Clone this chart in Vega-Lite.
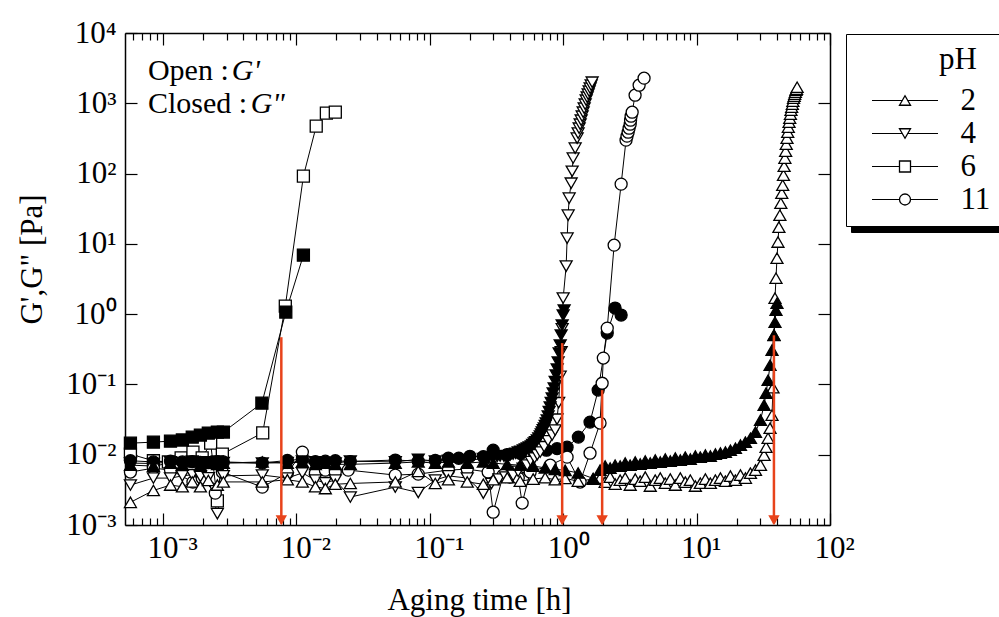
{
"$schema": "https://vega.github.io/schema/vega-lite/v6.json",
"width": 705, "height": 492,
"autosize": {"type": "none"},
"padding": {"left": 125, "top": 33, "right": 169, "bottom": 92},
"background": "white",
"config": {"view": {"stroke": null}, "font": "Liberation Serif"},
"datasets": {
"arrows": [{"t":0.00772,"g":0.47},{"t":0.983,"g":0.387},{"t":1.96,"g":0.083},{"t":38.0,"g":0.5}],
"ph": [{"p":"2"},{"p":"4"},{"p":"6"},{"p":"11"}],
"main": [
{"p":"6","m":"G'","t":0.000571,"g":0.0102},{"p":"6","m":"G'","t":0.000849,"g":0.0082},{"p":"6","m":"G'","t":0.0011,"g":0.0079},{"p":"6","m":"G'","t":0.00137,"g":0.009},{"p":"6","m":"G'","t":0.00168,"g":0.0109},{"p":"6","m":"G'","t":0.00197,"g":0.009},{"p":"6","m":"G'","t":0.00228,"g":0.0146},{"p":"6","m":"G'","t":0.00256,"g":0.0022},{"p":"6","m":"G'","t":0.00279,"g":0.0102},{"p":"6","m":"G'","t":0.0056,"g":0.0205},{"p":"6","m":"G'","t":0.00827,"g":1.3},{"p":"6","m":"G'","t":0.0113,"g":92},{"p":"6","m":"G'","t":0.0141,"g":472},{"p":"6","m":"G'","t":0.0168,"g":723},{"p":"6","m":"G'","t":0.0196,"g":747},
{"p":"6","m":"G''","t":0.000571,"g":0.0146},{"p":"6","m":"G''","t":0.000849,"g":0.0151},{"p":"6","m":"G''","t":0.00114,"g":0.0156},{"p":"6","m":"G''","t":0.0014,"g":0.0162},{"p":"6","m":"G''","t":0.00166,"g":0.0178},{"p":"6","m":"G''","t":0.00191,"g":0.019},{"p":"6","m":"G''","t":0.00219,"g":0.0203},{"p":"6","m":"G''","t":0.00256,"g":0.021},{"p":"6","m":"G''","t":0.00284,"g":0.021},{"p":"6","m":"G''","t":0.00552,"g":0.0542},{"p":"6","m":"G''","t":0.00834,"g":1.07},{"p":"6","m":"G''","t":0.0113,"g":6.9},
{"p":"11","m":"G''","t":0.000571,"g":0.0082},{"p":"11","m":"G''","t":0.000849,"g":0.0079},{"p":"11","m":"G''","t":0.00114,"g":0.0081},{"p":"11","m":"G''","t":0.0014,"g":0.0079},{"p":"11","m":"G''","t":0.00166,"g":0.008},{"p":"11","m":"G''","t":0.00191,"g":0.0078},{"p":"11","m":"G''","t":0.00219,"g":0.0077},{"p":"11","m":"G''","t":0.00256,"g":0.008},{"p":"11","m":"G''","t":0.00284,"g":0.0079},{"p":"11","m":"G''","t":0.00556,"g":0.0076},{"p":"11","m":"G''","t":0.00857,"g":0.0083},{"p":"11","m":"G''","t":0.0111,"g":0.0086},{"p":"11","m":"G''","t":0.0139,"g":0.008},{"p":"11","m":"G''","t":0.0165,"g":0.0081},{"p":"11","m":"G''","t":0.0196,"g":0.0082},{"p":"11","m":"G''","t":0.0254,"g":0.008},{"p":"11","m":"G''","t":0.0552,"g":0.0084},{"p":"11","m":"G''","t":0.082,"g":0.0081},{"p":"11","m":"G''","t":0.11,"g":0.0083},{"p":"11","m":"G''","t":0.138,"g":0.0089},{"p":"11","m":"G''","t":0.165,"g":0.0089},{"p":"11","m":"G''","t":0.2,"g":0.0095},{"p":"11","m":"G''","t":0.252,"g":0.0094},{"p":"11","m":"G''","t":0.299,"g":0.0116},{"p":"11","m":"G''","t":0.38,"g":0.01},{"p":"11","m":"G''","t":0.48,"g":0.0104},{"p":"11","m":"G''","t":0.6,"g":0.011},{"p":"11","m":"G''","t":0.75,"g":0.0116},{"p":"11","m":"G''","t":0.9,"g":0.0122},{"p":"11","m":"G''","t":1.07,"g":0.0128},{"p":"11","m":"G''","t":1.3,"g":0.0178},{"p":"11","m":"G''","t":1.59,"g":0.0291},{"p":"11","m":"G''","t":1.83,"g":0.083},{"p":"11","m":"G''","t":2.14,"g":0.537},{"p":"11","m":"G''","t":2.45,"g":1.22},{"p":"11","m":"G''","t":2.72,"g":0.97},
{"p":"11","m":"G'","t":0.000571,"g":0.00566},{"p":"11","m":"G'","t":0.000849,"g":0.00645},{"p":"11","m":"G'","t":0.00114,"g":0.00604},{"p":"11","m":"G'","t":0.00168,"g":0.00408},{"p":"11","m":"G'","t":0.00197,"g":0.00465},{"p":"11","m":"G'","t":0.00247,"g":0.00284},{"p":"11","m":"G'","t":0.00279,"g":0.00566},{"p":"11","m":"G'","t":0.00556,"g":0.00346},{"p":"11","m":"G'","t":0.00857,"g":0.00547},{"p":"11","m":"G'","t":0.0111,"g":0.0109},{"p":"11","m":"G'","t":0.0139,"g":0.00547},{"p":"11","m":"G'","t":0.0165,"g":0.00604},{"p":"11","m":"G'","t":0.0196,"g":0.00566},{"p":"11","m":"G'","t":0.0245,"g":0.00604},{"p":"11","m":"G'","t":0.0552,"g":0.00513},{"p":"11","m":"G'","t":0.082,"g":0.0053},{"p":"11","m":"G'","t":0.138,"g":0.00604},{"p":"11","m":"G'","t":0.191,"g":0.00624},{"p":"11","m":"G'","t":0.274,"g":0.00566},{"p":"11","m":"G'","t":0.299,"g":0.00152},{"p":"11","m":"G'","t":0.355,"g":0.00513},{"p":"11","m":"G'","t":0.401,"g":0.0048},{"p":"11","m":"G'","t":0.461,"g":0.00465},{"p":"11","m":"G'","t":0.493,"g":0.00205},{"p":"11","m":"G'","t":0.566,"g":0.00566},{"p":"11","m":"G'","t":0.8,"g":0.0071},{"p":"11","m":"G'","t":1.07,"g":0.00924},{"p":"11","m":"G'","t":1.34,"g":0.00408},{"p":"11","m":"G'","t":1.59,"g":0.0105},{"p":"11","m":"G'","t":1.89,"g":0.0282},{"p":"11","m":"G'","t":1.96,"g":0.104},{"p":"11","m":"G'","t":2.0,"g":0.237},{"p":"11","m":"G'","t":2.14,"g":0.632},{"p":"11","m":"G'","t":2.41,"g":9.58},{"p":"11","m":"G'","t":2.72,"g":70.7},{"p":"11","m":"G'","t":2.96,"g":299},{"p":"11","m":"G'","t":3.01,"g":341},{"p":"11","m":"G'","t":3.07,"g":388},{"p":"11","m":"G'","t":3.12,"g":442},{"p":"11","m":"G'","t":3.18,"g":504},{"p":"11","m":"G'","t":3.2,"g":575},{"p":"11","m":"G'","t":3.23,"g":655},{"p":"11","m":"G'","t":3.29,"g":747},{"p":"11","m":"G'","t":3.46,"g":1303},{"p":"11","m":"G'","t":3.71,"g":1808},{"p":"11","m":"G'","t":4.04,"g":2277},
{"p":"4","m":"G'","t":0.000571,"g":0.0037},{"p":"4","m":"G'","t":0.000849,"g":0.00465},{"p":"4","m":"G'","t":0.00114,"g":0.00465},{"p":"4","m":"G'","t":0.0014,"g":0.005},{"p":"4","m":"G'","t":0.00166,"g":0.0052},{"p":"4","m":"G'","t":0.00191,"g":0.0049},{"p":"4","m":"G'","t":0.00219,"g":0.0047},{"p":"4","m":"G'","t":0.00256,"g":0.00145},{"p":"4","m":"G'","t":0.00284,"g":0.005},{"p":"4","m":"G'","t":0.00556,"g":0.00513},{"p":"4","m":"G'","t":0.00857,"g":0.00465},{"p":"4","m":"G'","t":0.0111,"g":0.0055},{"p":"4","m":"G'","t":0.0139,"g":0.00435},{"p":"4","m":"G'","t":0.0165,"g":0.004},{"p":"4","m":"G'","t":0.0196,"g":0.00435},{"p":"4","m":"G'","t":0.0254,"g":0.0025},{"p":"4","m":"G'","t":0.0552,"g":0.00346},{"p":"4","m":"G'","t":0.082,"g":0.0029},{"p":"4","m":"G'","t":0.11,"g":0.00435},{"p":"4","m":"G'","t":0.138,"g":0.005},{"p":"4","m":"G'","t":0.191,"g":0.00465},{"p":"4","m":"G'","t":0.252,"g":0.00284},{"p":"4","m":"G'","t":0.29,"g":0.0039},{"p":"4","m":"G'","t":0.33,"g":0.0045},{"p":"4","m":"G'","t":0.37,"g":0.0048},{"p":"4","m":"G'","t":0.422,"g":0.0051},{"p":"4","m":"G'","t":0.46,"g":0.0058},{"p":"4","m":"G'","t":0.5,"g":0.0064},{"p":"4","m":"G'","t":0.538,"g":0.0071},{"p":"4","m":"G'","t":0.576,"g":0.008},{"p":"4","m":"G'","t":0.61,"g":0.009},{"p":"4","m":"G'","t":0.64,"g":0.01},{"p":"4","m":"G'","t":0.673,"g":0.0109},{"p":"4","m":"G'","t":0.72,"g":0.013},{"p":"4","m":"G'","t":0.77,"g":0.0158},{"p":"4","m":"G'","t":0.827,"g":0.019},{"p":"4","m":"G'","t":0.871,"g":0.0224},{"p":"4","m":"G'","t":0.9,"g":0.032},{"p":"4","m":"G'","t":0.925,"g":0.055},{"p":"4","m":"G'","t":0.95,"g":0.13},{"p":"4","m":"G'","t":0.966,"g":0.29},{"p":"4","m":"G'","t":0.983,"g":0.62},{"p":"4","m":"G'","t":1.0,"g":1.69},{"p":"4","m":"G'","t":1.053,"g":4.82},{"p":"4","m":"G'","t":1.071,"g":12.05},{"p":"4","m":"G'","t":1.09,"g":25.6},{"p":"4","m":"G'","t":1.109,"g":44.7},{"p":"4","m":"G'","t":1.148,"g":73},{"p":"4","m":"G'","t":1.168,"g":108},{"p":"4","m":"G'","t":1.188,"g":166},{"p":"4","m":"G'","t":1.23,"g":230},{"p":"4","m":"G'","t":1.273,"g":319},{"p":"4","m":"G'","t":1.295,"g":376},{"p":"4","m":"G'","t":1.318,"g":442},{"p":"4","m":"G'","t":1.341,"g":504},{"p":"4","m":"G'","t":1.364,"g":575},{"p":"4","m":"G'","t":1.388,"g":655},{"p":"4","m":"G'","t":1.412,"g":747},{"p":"4","m":"G'","t":1.437,"g":851},{"p":"4","m":"G'","t":1.462,"g":970},{"p":"4","m":"G'","t":1.487,"g":1107},{"p":"4","m":"G'","t":1.513,"g":1221},{"p":"4","m":"G'","t":1.539,"g":1346},{"p":"4","m":"G'","t":1.566,"g":1486},{"p":"4","m":"G'","t":1.593,"g":1640},{"p":"4","m":"G'","t":1.621,"g":1808},{"p":"4","m":"G'","t":1.649,"g":1995},
{"p":"4","m":"G''","t":0.000571,"g":0.0076},{"p":"4","m":"G''","t":0.000849,"g":0.0075},{"p":"4","m":"G''","t":0.00114,"g":0.0079},{"p":"4","m":"G''","t":0.0014,"g":0.0077},{"p":"4","m":"G''","t":0.00166,"g":0.0081},{"p":"4","m":"G''","t":0.00191,"g":0.0077},{"p":"4","m":"G''","t":0.00219,"g":0.0079},{"p":"4","m":"G''","t":0.00256,"g":0.0081},{"p":"4","m":"G''","t":0.00284,"g":0.0077},{"p":"4","m":"G''","t":0.00556,"g":0.0076},{"p":"4","m":"G''","t":0.00857,"g":0.0077},{"p":"4","m":"G''","t":0.0111,"g":0.0081},{"p":"4","m":"G''","t":0.0139,"g":0.0079},{"p":"4","m":"G''","t":0.0165,"g":0.0077},{"p":"4","m":"G''","t":0.0196,"g":0.0076},{"p":"4","m":"G''","t":0.0254,"g":0.0081},{"p":"4","m":"G''","t":0.0552,"g":0.0079},{"p":"4","m":"G''","t":0.082,"g":0.0086},{"p":"4","m":"G''","t":0.11,"g":0.0081},{"p":"4","m":"G''","t":0.138,"g":0.0083},{"p":"4","m":"G''","t":0.191,"g":0.0083},{"p":"4","m":"G''","t":0.252,"g":0.0088},{"p":"4","m":"G''","t":0.275,"g":0.0089},{"p":"4","m":"G''","t":0.299,"g":0.0092},{"p":"4","m":"G''","t":0.32,"g":0.0094},{"p":"4","m":"G''","t":0.337,"g":0.0096},{"p":"4","m":"G''","t":0.36,"g":0.0095},{"p":"4","m":"G''","t":0.381,"g":0.0097},{"p":"4","m":"G''","t":0.4,"g":0.0099},{"p":"4","m":"G''","t":0.422,"g":0.0102},{"p":"4","m":"G''","t":0.44,"g":0.0105},{"p":"4","m":"G''","t":0.46,"g":0.0109},{"p":"4","m":"G''","t":0.48,"g":0.0112},{"p":"4","m":"G''","t":0.502,"g":0.0116},{"p":"4","m":"G''","t":0.52,"g":0.012},{"p":"4","m":"G''","t":0.538,"g":0.0124},{"p":"4","m":"G''","t":0.556,"g":0.0128},{"p":"4","m":"G''","t":0.576,"g":0.0133},{"p":"4","m":"G''","t":0.59,"g":0.0139},{"p":"4","m":"G''","t":0.606,"g":0.0146},{"p":"4","m":"G''","t":0.62,"g":0.0153},{"p":"4","m":"G''","t":0.639,"g":0.0161},{"p":"4","m":"G''","t":0.656,"g":0.0172},{"p":"4","m":"G''","t":0.673,"g":0.0184},{"p":"4","m":"G''","t":0.685,"g":0.0197},{"p":"4","m":"G''","t":0.696,"g":0.021},{"p":"4","m":"G''","t":0.708,"g":0.0225},{"p":"4","m":"G''","t":0.721,"g":0.0239},{"p":"4","m":"G''","t":0.733,"g":0.026},{"p":"4","m":"G''","t":0.746,"g":0.0282},{"p":"4","m":"G''","t":0.759,"g":0.031},{"p":"4","m":"G''","t":0.772,"g":0.0354},{"p":"4","m":"G''","t":0.785,"g":0.041},{"p":"4","m":"G''","t":0.799,"g":0.0475},{"p":"4","m":"G''","t":0.813,"g":0.055},{"p":"4","m":"G''","t":0.827,"g":0.0638},{"p":"4","m":"G''","t":0.841,"g":0.075},{"p":"4","m":"G''","t":0.856,"g":0.0886},{"p":"4","m":"G''","t":0.871,"g":0.11},{"p":"4","m":"G''","t":0.886,"g":0.1355},{"p":"4","m":"G''","t":0.902,"g":0.165},{"p":"4","m":"G''","t":0.917,"g":0.2075},{"p":"4","m":"G''","t":0.933,"g":0.279},{"p":"4","m":"G''","t":0.95,"g":0.362},{"p":"4","m":"G''","t":0.966,"g":0.503},{"p":"4","m":"G''","t":0.983,"g":0.698},{"p":"4","m":"G''","t":1.0,"g":0.968},{"p":"4","m":"G''","t":1.017,"g":1.14},
{"p":"2","m":"G'","t":0.000571,"g":0.0021},{"p":"2","m":"G'","t":0.000849,"g":0.0031},{"p":"2","m":"G'","t":0.00114,"g":0.0037},{"p":"2","m":"G'","t":0.0014,"g":0.0035},{"p":"2","m":"G'","t":0.00166,"g":0.0041},{"p":"2","m":"G'","t":0.00191,"g":0.0035},{"p":"2","m":"G'","t":0.00219,"g":0.0043},{"p":"2","m":"G'","t":0.00256,"g":0.0037},{"p":"2","m":"G'","t":0.00284,"g":0.0041},{"p":"2","m":"G'","t":0.00556,"g":0.0041},{"p":"2","m":"G'","t":0.00857,"g":0.0044},{"p":"2","m":"G'","t":0.0111,"g":0.0041},{"p":"2","m":"G'","t":0.0139,"g":0.0035},{"p":"2","m":"G'","t":0.0165,"g":0.0033},{"p":"2","m":"G'","t":0.0196,"g":0.0038},{"p":"2","m":"G'","t":0.0254,"g":0.0039},{"p":"2","m":"G'","t":0.0552,"g":0.0041},{"p":"2","m":"G'","t":0.082,"g":0.0058},{"p":"2","m":"G'","t":0.11,"g":0.0039},{"p":"2","m":"G'","t":0.138,"g":0.0044},{"p":"2","m":"G'","t":0.191,"g":0.0041},{"p":"2","m":"G'","t":0.252,"g":0.0038},{"p":"2","m":"G'","t":0.299,"g":0.0044},{"p":"2","m":"G'","t":0.381,"g":0.0047},{"p":"2","m":"G'","t":0.476,"g":0.0042},{"p":"2","m":"G'","t":0.596,"g":0.0045},{"p":"2","m":"G'","t":0.733,"g":0.0047},{"p":"2","m":"G'","t":0.871,"g":0.0044},{"p":"2","m":"G'","t":1.035,"g":0.0046},{"p":"2","m":"G'","t":1.295,"g":0.0042},{"p":"2","m":"G'","t":1.677,"g":0.0045},{"p":"2","m":"G'","t":1.892,"g":0.00465},{"p":"2","m":"G'","t":2.064,"g":0.00408},{"p":"2","m":"G'","t":2.25,"g":0.0048},{"p":"2","m":"G'","t":2.454,"g":0.00382},{"p":"2","m":"G'","t":2.675,"g":0.00435},{"p":"2","m":"G'","t":2.917,"g":0.00465},{"p":"2","m":"G'","t":3.18,"g":0.0037},{"p":"2","m":"G'","t":3.468,"g":0.0045},{"p":"2","m":"G'","t":3.781,"g":0.00421},{"p":"2","m":"G'","t":4.123,"g":0.0048},{"p":"2","m":"G'","t":4.495,"g":0.00358},{"p":"2","m":"G'","t":4.901,"g":0.00435},{"p":"2","m":"G'","t":5.344,"g":0.00465},{"p":"2","m":"G'","t":5.827,"g":0.00394},{"p":"2","m":"G'","t":6.353,"g":0.0045},{"p":"2","m":"G'","t":6.927,"g":0.0037},{"p":"2","m":"G'","t":7.553,"g":0.00465},{"p":"2","m":"G'","t":8.235,"g":0.00408},{"p":"2","m":"G'","t":8.979,"g":0.00435},{"p":"2","m":"G'","t":9.79,"g":0.00358},{"p":"2","m":"G'","t":10.67,"g":0.00394},{"p":"2","m":"G'","t":11.64,"g":0.0045},{"p":"2","m":"G'","t":12.69,"g":0.00394},{"p":"2","m":"G'","t":13.84,"g":0.00435},{"p":"2","m":"G'","t":15.09,"g":0.00465},{"p":"2","m":"G'","t":16.45,"g":0.00421},{"p":"2","m":"G'","t":17.93,"g":0.00496},{"p":"2","m":"G'","t":19.55,"g":0.00435},{"p":"2","m":"G'","t":21.32,"g":0.00513},{"p":"2","m":"G'","t":23.24,"g":0.00465},{"p":"2","m":"G'","t":25.34,"g":0.00547},{"p":"2","m":"G'","t":27.63,"g":0.00604},{"p":"2","m":"G'","t":30.13,"g":0.00711},{"p":"2","m":"G'","t":32.05,"g":0.00987},{"p":"2","m":"G'","t":33.18,"g":0.0128},{"p":"2","m":"G'","t":34.33,"g":0.0172},{"p":"2","m":"G'","t":35.53,"g":0.0238},{"p":"2","m":"G'","t":36.76,"g":0.0365},{"p":"2","m":"G'","t":37.4,"g":0.09},{"p":"2","m":"G'","t":38.04,"g":0.5},{"p":"2","m":"G'","t":38.7,"g":1.69},{"p":"2","m":"G'","t":39.37,"g":3.25},{"p":"2","m":"G'","t":40.05,"g":6.26},{"p":"2","m":"G'","t":40.74,"g":10.6},{"p":"2","m":"G'","t":41.4,"g":17.3},{"p":"2","m":"G'","t":42.1,"g":25.6},{"p":"2","m":"G'","t":42.8,"g":37.9},{"p":"2","m":"G'","t":43.5,"g":52.6},{"p":"2","m":"G'","t":44.2,"g":68.4},{"p":"2","m":"G'","t":44.8,"g":95},{"p":"2","m":"G'","t":45.3,"g":127},{"p":"2","m":"G'","t":45.9,"g":166},{"p":"2","m":"G'","t":46.5,"g":208},{"p":"2","m":"G'","t":47.0,"g":262},{"p":"2","m":"G'","t":47.6,"g":319},{"p":"2","m":"G'","t":48.2,"g":388},{"p":"2","m":"G'","t":48.7,"g":457},{"p":"2","m":"G'","t":49.3,"g":539},{"p":"2","m":"G'","t":49.9,"g":614},{"p":"2","m":"G'","t":50.5,"g":700},{"p":"2","m":"G'","t":51.0,"g":797},{"p":"2","m":"G'","t":51.6,"g":880},{"p":"2","m":"G'","t":52.2,"g":970},{"p":"2","m":"G'","t":52.7,"g":1071},{"p":"2","m":"G'","t":53.3,"g":1182},{"p":"2","m":"G'","t":53.9,"g":1262},{"p":"2","m":"G'","t":54.4,"g":1347},{"p":"2","m":"G'","t":55.0,"g":1438},{"p":"2","m":"G'","t":55.6,"g":1535},{"p":"2","m":"G'","t":56.1,"g":1587},{"p":"2","m":"G'","t":56.7,"g":1694},
{"p":"2","m":"G''","t":0.000571,"g":0.0071},{"p":"2","m":"G''","t":0.000849,"g":0.0069},{"p":"2","m":"G''","t":0.00114,"g":0.0076},{"p":"2","m":"G''","t":0.0014,"g":0.0071},{"p":"2","m":"G''","t":0.00166,"g":0.0079},{"p":"2","m":"G''","t":0.00191,"g":0.0071},{"p":"2","m":"G''","t":0.00219,"g":0.0076},{"p":"2","m":"G''","t":0.00256,"g":0.0073},{"p":"2","m":"G''","t":0.00284,"g":0.0076},{"p":"2","m":"G''","t":0.00556,"g":0.0079},{"p":"2","m":"G''","t":0.00857,"g":0.0076},{"p":"2","m":"G''","t":0.0111,"g":0.0079},{"p":"2","m":"G''","t":0.0139,"g":0.0073},{"p":"2","m":"G''","t":0.0165,"g":0.0076},{"p":"2","m":"G''","t":0.0196,"g":0.0073},{"p":"2","m":"G''","t":0.0254,"g":0.0073},{"p":"2","m":"G''","t":0.0552,"g":0.0076},{"p":"2","m":"G''","t":0.082,"g":0.0079},{"p":"2","m":"G''","t":0.11,"g":0.0076},{"p":"2","m":"G''","t":0.138,"g":0.0079},{"p":"2","m":"G''","t":0.191,"g":0.0076},{"p":"2","m":"G''","t":0.252,"g":0.0079},{"p":"2","m":"G''","t":0.299,"g":0.0076},{"p":"2","m":"G''","t":0.381,"g":0.0073},{"p":"2","m":"G''","t":0.476,"g":0.0071},{"p":"2","m":"G''","t":0.596,"g":0.0069},{"p":"2","m":"G''","t":0.733,"g":0.0065},{"p":"2","m":"G''","t":0.871,"g":0.0062},{"p":"2","m":"G''","t":1.035,"g":0.006},{"p":"2","m":"G''","t":1.295,"g":0.0055},{"p":"2","m":"G''","t":1.677,"g":0.0046},{"p":"2","m":"G''","t":1.892,"g":0.00604},{"p":"2","m":"G''","t":2.064,"g":0.00689},{"p":"2","m":"G''","t":2.25,"g":0.00645},{"p":"2","m":"G''","t":2.454,"g":0.00711},{"p":"2","m":"G''","t":2.675,"g":0.00689},{"p":"2","m":"G''","t":2.917,"g":0.0076},{"p":"2","m":"G''","t":3.18,"g":0.00711},{"p":"2","m":"G''","t":3.468,"g":0.00785},{"p":"2","m":"G''","t":3.781,"g":0.00735},{"p":"2","m":"G''","t":4.123,"g":0.00811},{"p":"2","m":"G''","t":4.495,"g":0.0076},{"p":"2","m":"G''","t":4.901,"g":0.00838},{"p":"2","m":"G''","t":5.344,"g":0.00785},{"p":"2","m":"G''","t":5.827,"g":0.00866},{"p":"2","m":"G''","t":6.353,"g":0.00811},{"p":"2","m":"G''","t":6.927,"g":0.00895},{"p":"2","m":"G''","t":7.553,"g":0.00838},{"p":"2","m":"G''","t":8.235,"g":0.00924},{"p":"2","m":"G''","t":8.979,"g":0.00866},{"p":"2","m":"G''","t":9.79,"g":0.00955},{"p":"2","m":"G''","t":10.67,"g":0.00924},{"p":"2","m":"G''","t":11.64,"g":0.00987},{"p":"2","m":"G''","t":12.69,"g":0.00955},{"p":"2","m":"G''","t":13.84,"g":0.0102},{"p":"2","m":"G''","t":15.09,"g":0.01054},{"p":"2","m":"G''","t":16.45,"g":0.0109},{"p":"2","m":"G''","t":17.93,"g":0.0116},{"p":"2","m":"G''","t":19.55,"g":0.0124},{"p":"2","m":"G''","t":21.32,"g":0.0137},{"p":"2","m":"G''","t":23.24,"g":0.0151},{"p":"2","m":"G''","t":25.34,"g":0.0172},{"p":"2","m":"G''","t":27.63,"g":0.021},{"p":"2","m":"G''","t":30.13,"g":0.0311},{"p":"2","m":"G''","t":32.05,"g":0.0508},{"p":"2","m":"G''","t":33.18,"g":0.0752},{"p":"2","m":"G''","t":34.33,"g":0.115},{"p":"2","m":"G''","t":35.53,"g":0.188},{"p":"2","m":"G''","t":36.76,"g":0.308},{"p":"2","m":"G''","t":38.04,"g":0.503},{"p":"2","m":"G''","t":38.7,"g":0.769},{"p":"2","m":"G''","t":39.37,"g":1.14},{"p":"2","m":"G''","t":40.05,"g":1.43}
]
},
"resolve": {"axis": {"x": "independent", "y": "independent"}, "scale": {"shape": "independent", "fill": "independent", "size": "independent", "stroke": "independent"}},
"layer": [
{"data": {"name": "main"},
 "mark": {"type": "line", "color": "black", "strokeWidth": 1},
 "encoding": {
  "x": {"field": "t", "type": "quantitative", "scale": {"type": "log", "domain": [0.00052, 100], "nice": false},
   "axis": {"orient": "bottom", "values": [0.0006,0.0007,0.0008,0.0009,0.001,0.002,0.003,0.004,0.005,0.006,0.007,0.008,0.009,0.01,0.02,0.03,0.04,0.05,0.06,0.07,0.08,0.09,0.1,0.2,0.3,0.4,0.5,0.6,0.7,0.8,0.9,1,2,3,4,5,6,7,8,9,10,20,30,40,50,60,70,80,90,100],
    "labelExpr": "datum.value==0.001?'10⁻³':datum.value==0.01?'10⁻²':datum.value==0.1?'10⁻¹':datum.value==1?'10⁰':datum.value==10?'10¹':datum.value==100?'10²':''",
    "tickSize": {"condition": {"test": "datum.value==0.001||datum.value==0.01||datum.value==0.1||datum.value==1||datum.value==10||datum.value==100", "value": -12}, "value": -7},
    "tickWidth": 1.2, "tickColor": "black", "domainColor": "black", "domainWidth": 1.5,
    "labelFont": "Liberation Serif", "labelFontSize": 31, "labelColor": "black", "labelAlign": "left", "labelOffset": -16, "labelBaseline": "top", "labelPadding": 20,
    "labelOverlap": false, "labelFlush": false, "labelBound": false, "grid": false,
    "title": "Aging time [h]", "titleFont": "Liberation Serif", "titleFontSize": 31, "titleFontWeight": "normal", "titleColor": "black",
    "titleX": 354, "titleY": 75, "titleBaseline": "middle", "titleAlign": "center"}},
  "y": {"field": "g", "type": "quantitative", "scale": {"type": "log", "domain": [0.001, 10000], "nice": false},
   "axis": {"orient": "left", "values": [0.001,0.01,0.1,1,10,100,1000,10000],
    "labelExpr": "datum.value==0.001?'10⁻³':datum.value==0.01?'10⁻²':datum.value==0.1?'10⁻¹':datum.value==1?'10⁰':datum.value==10?'10¹':datum.value==100?'10²':datum.value==1000?'10³':datum.value==10000?'10⁴':''",
    "tickSize": -12, "tickWidth": 1.2, "tickColor": "black", "domainColor": "black", "domainWidth": 1.5,
    "labelFont": "Liberation Serif", "labelFontSize": 31, "labelColor": "black", "labelAlign": "right", "labelBaseline": "middle", "labelPadding": 21,
    "labelOverlap": false, "labelFlush": false, "labelBound": false, "grid": false,
    "title": "G',G\" [Pa]", "titleFont": "Liberation Serif", "titleFontSize": 31, "titleFontWeight": "normal", "titleColor": "black",
    "titleX": -93, "titleY": 226, "titleAngle": 270, "titleAlign": "center", "titleBaseline": "middle"}},
  "detail": [{"field": "p", "type": "nominal"}, {"field": "m", "type": "nominal"}]
 }},
{"data": {"name": "main"},
 "mark": {"type": "point", "filled": true, "stroke": "black", "strokeWidth": 1.3, "opacity": 1},
 "encoding": {
  "x": {"field": "t", "type": "quantitative",
   "axis": {"orient": "top", "values": [0.0006,0.0007,0.0008,0.0009,0.001,0.002,0.003,0.004,0.005,0.006,0.007,0.008,0.009,0.01,0.02,0.03,0.04,0.05,0.06,0.07,0.08,0.09,0.1,0.2,0.3,0.4,0.5,0.6,0.7,0.8,0.9,1,2,3,4,5,6,7,8,9,10,20,30,40,50,60,70,80,90,100],
    "labels": false, "title": null, "grid": false,
    "tickSize": {"condition": {"test": "datum.value==0.001||datum.value==0.01||datum.value==0.1||datum.value==1||datum.value==10||datum.value==100", "value": -12}, "value": -7},
    "tickWidth": 1.2, "tickColor": "black", "domainColor": "black", "domainWidth": 1.5}},
  "y": {"field": "g", "type": "quantitative",
   "axis": {"orient": "right", "values": [0.001,0.01,0.1,1,10,100,1000,10000], "labels": false, "title": null, "grid": false,
    "tickSize": -12, "tickWidth": 1.2, "tickColor": "black", "domainColor": "black", "domainWidth": 1.5}},
  "shape": {"field": "p", "type": "nominal", "scale": {"domain": ["2","4","6","11"], "range": ["triangle-up","triangle-down","square","circle"]}, "legend": null},
  "fill": {"field": "m", "type": "nominal", "scale": {"domain": ["G'","G''"], "range": ["white","black"]}, "legend": null},
  "size": {"field": "p", "type": "ordinal", "scale": {"domain": ["2","4","6","11"], "range": [144,144,100,121]}, "legend": null}
 }},
{"data": {"name": "arrows"},
 "mark": {"type": "rule", "color": "#e8431b", "strokeWidth": 2.5},
 "encoding": {
  "x": {"field": "t", "type": "quantitative", "axis": null},
  "y": {"field": "g", "type": "quantitative", "axis": null},
  "y2": {"datum": 0.00105}
 }},
{"data": {"name": "arrows"},
 "mark": {"type": "point", "shape": "triangle-down", "filled": true, "color": "#e8431b", "opacity": 1, "size": 130, "strokeWidth": 0},
 "encoding": {
  "x": {"field": "t", "type": "quantitative", "axis": null},
  "y": {"datum": 0.00117, "type": "quantitative", "axis": null}
 }},
{"data": {"values": [{}]},
 "mark": {"type": "text", "text": "Open :", "align": "left", "baseline": "alphabetic", "fontSize": 30, "font": "Liberation Serif", "color": "black"},
 "encoding": {"x": {"datum": 0.000772, "type": "quantitative", "axis": null}, "y": {"datum": 2131, "type": "quantitative", "axis": null}}},
{"data": {"values": [{}]},
 "mark": {"type": "text", "text": "G'", "align": "left", "baseline": "alphabetic", "fontSize": 30, "font": "Liberation Serif", "fontStyle": "italic", "color": "black"},
 "encoding": {"x": {"datum": 0.00328, "type": "quantitative", "axis": null}, "y": {"datum": 2131, "type": "quantitative", "axis": null}}},
{"data": {"values": [{}]},
 "mark": {"type": "text", "text": "Closed :", "align": "left", "baseline": "alphabetic", "fontSize": 30, "font": "Liberation Serif", "color": "black"},
 "encoding": {"x": {"datum": 0.000772, "type": "quantitative", "axis": null}, "y": {"datum": 723, "type": "quantitative", "axis": null}}},
{"data": {"values": [{}]},
 "mark": {"type": "text", "text": "G\"", "align": "left", "baseline": "alphabetic", "fontSize": 30, "font": "Liberation Serif", "fontStyle": "italic", "color": "black"},
 "encoding": {"x": {"datum": 0.00455, "type": "quantitative", "axis": null}, "y": {"datum": 723, "type": "quantitative", "axis": null}}},
{"data": {"name": "ph"},
 "transform": [{"filter": "false"}],
 "mark": {"type": "point", "filled": true, "fill": "black", "stroke": "black", "strokeWidth": 1},
 "encoding": {
  "fill": {"field": "p", "type": "nominal", "scale": {"domain": ["2","4","6","11"], "range": ["black","black","black","black"]},
   "legend": {"title": "       ", "orient": "none", "legendX": 726, "legendY": 7, "zindex": 0, "padding": 11,
    "symbolType": "stroke", "symbolSize": 22500, "symbolStrokeColor": "black", "symbolStrokeWidth": 1, "labelOffset": 0,
    "labelExpr": "''", "labelFont": "Liberation Serif", "labelFontSize": 31, "labelColor": "black",
    "titleFont": "Liberation Serif", "titleFontSize": 31, "titleFontWeight": "normal", "titleColor": "black", "titleAnchor": "end",
    "rowPadding": 1, "titlePadding": 9, "clipHeight": 31, "strokeColor": "black", "fillColor": "black", "symbolOpacity": 1}}
 }},
{"data": {"name": "ph"},
 "transform": [{"filter": "false"}],
 "mark": {"type": "point", "stroke": "black", "strokeWidth": 1},
 "encoding": {
  "stroke": {"field": "p", "type": "nominal", "scale": {"domain": ["2","4","6","11"], "range": ["black","black","black","black"]},
   "legend": {"title": "       ", "orient": "none", "legendX": 721, "legendY": 1, "zindex": 1, "padding": 11,
    "symbolType": "stroke", "symbolSize": 4356, "symbolStrokeColor": "black", "symbolStrokeWidth": 1, "symbolOffset": 14.5, "labelOffset": 22,
    "labelExpr": "datum.label+'  '", "labelFont": "Liberation Serif", "labelFontSize": 31, "labelColor": "black",
    "titleFont": "Liberation Serif", "titleFontSize": 31, "titleFontWeight": "normal", "titleColor": "black", "titleAnchor": "end",
    "rowPadding": 1, "titlePadding": 9, "clipHeight": 31, "strokeColor": "black", "fillColor": "white", "symbolOpacity": 1}}
 }},
{"data": {"name": "ph"},
 "transform": [{"filter": "false"}],
 "mark": {"type": "point", "filled": true, "fill": "white", "stroke": "black", "strokeWidth": 1.3},
 "encoding": {
  "shape": {"field": "p", "type": "nominal", "scale": {"domain": ["2","4","6","11"], "range": ["triangle-up","triangle-down","square","circle"]},
   "legend": {"title": "pH", "orient": "none", "legendX": 721, "legendY": 1, "zindex": 2, "padding": 11,
    "symbolSize": 121, "symbolOffset": 32.5, "symbolFillColor": "white", "symbolStrokeColor": "black", "symbolStrokeWidth": 1.3, "labelOffset": 56,
    "labelExpr": "'         '", "labelFont": "Liberation Serif", "labelFontSize": 31, "labelColor": "black",
    "titleFont": "Liberation Serif", "titleFontSize": 31, "titleFontWeight": "normal", "titleColor": "black", "titleAnchor": "end",
    "rowPadding": 1, "titlePadding": 9, "clipHeight": 31, "symbolOpacity": 1}}
 }},
{"data": {"name": "ph"},
 "transform": [{"filter": "false"}],
 "mark": {"type": "point", "filled": false, "color": "black", "strokeWidth": 1.3},
 "encoding": {
  "shape": {"field": "p", "type": "nominal", "scale": {"domain": ["2","4","6","11"], "range": ["triangle-up","triangle-down","square","circle"]},
   "legend": {"title": "       ", "orient": "none", "legendX": 721, "legendY": 1, "zindex": 3, "padding": 11,
    "symbolSize": 121, "symbolOffset": 32.5, "symbolStrokeColor": "black", "symbolStrokeWidth": 1.3, "labelOffset": 22,
    "labelExpr": "''", "labelFont": "Liberation Serif", "labelFontSize": 31, "labelColor": "black",
    "titleFont": "Liberation Serif", "titleFontSize": 31, "titleFontWeight": "normal", "titleColor": "black", "titleAnchor": "end",
    "rowPadding": 1, "titlePadding": 9, "clipHeight": 31, "symbolOpacity": 1}}
 }}
]
}
